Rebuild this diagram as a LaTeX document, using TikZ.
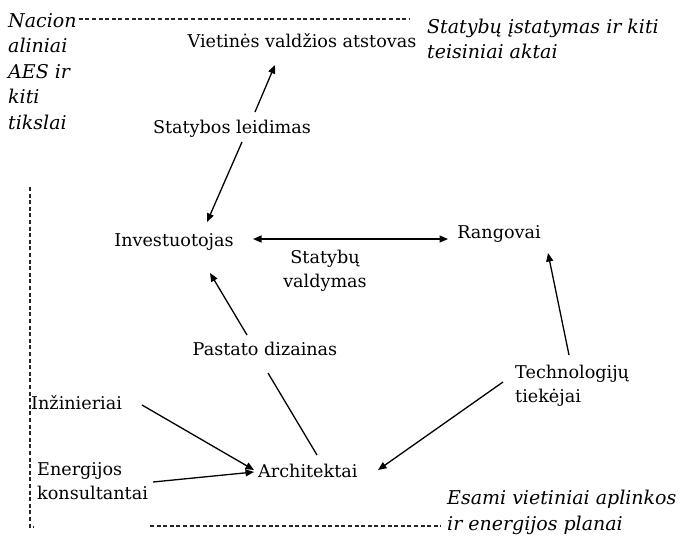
\documentclass[tikz,border=0pt]{standalone}
\usepackage{fontspec}
\setmainfont{DejaVu Serif}
\usetikzlibrary{arrows.meta}
\begin{document}
\begin{tikzpicture}[x=1pt,y=-1pt,
  lbl/.style={font=\fontsize{17.6}{24}\selectfont, inner sep=0pt},
  itl/.style={font=\fontsize{19}{25.5}\selectfont\itshape, inner sep=0pt, align=left},
  tip/.style={-{Triangle[length=8.5pt,width=7pt]}},
  conn/.style={line width=1.3pt},
  dsh/.style={dash pattern=on 4pt off 2.6pt, line width=1.1pt, black!85}]
\useasboundingbox[fill=white] (0,0) rectangle (680,542);
% nodes
\node[itl, anchor=north west] (nac) at (8,13) {Nacion\\aliniai\\AES ir\\kiti\\tikslai};
\node[lbl, anchor=base] (vie) at (302,47) {Vietinės valdžios atstovas};
\node[itl, anchor=north west, font=\fontsize{19}{24.5}\selectfont\itshape] (sta) at (427,19) {Statybų įstatymas ir kiti\\teisiniai aktai};
\node[lbl, anchor=base] (sle) at (232,133) {Statybos leidimas};
\node[lbl, anchor=base] (inv) at (174,246) {Investuotojas};
\node[lbl, anchor=base] (ran) at (499,238) {Rangovai};
\node[lbl, anchor=north, align=center] (val) at (325,250) {Statybų\\valdymas};
\node[lbl, anchor=base] (pdz) at (265,355) {Pastato dizainas};
\node[lbl, anchor=north west, align=left] (tec) at (515,365) {Technologijų\\tiekėjai};
\node[lbl, anchor=base west] (inz) at (31,409) {Inžinieriai};
\node[lbl, anchor=north west, align=left] (ene) at (37,462) {Energijos\\konsultantai};
\node[lbl, anchor=base west] (arc) at (258,477) {Architektai};
\node[itl, anchor=north west] (esa) at (447,490) {Esami vietiniai aplinkos\\ir energijos planai};
% dashed frame pieces
\draw[dsh] ([shift={(2,6)}]nac.north east) -- (410,19);
\draw[dsh] (30,187) -- (30,527) -- (34,527);
\draw[dsh] (150,526) -- (441,526);
% connectors
\draw[conn,tip] ([shift={(23,-21)}]sle.base) -- ([shift={(-27,18)}]vie.base);
\draw[conn,tip] ([shift={(10,9)}]sle.base) -- ([shift={(33,-24)}]inv.base);
\draw[conn,{Triangle[length=8.5pt,width=7pt]}-{Triangle[length=8.5pt,width=7pt]}] ([shift={(79,-7)}]inv.base) -- ([shift={(-51,1)}]ran.base);
\draw[conn,tip] ([shift={(-18,-20)}]pdz.base) -- ([shift={(36,27)}]inv.base);
\draw[conn] ([shift={(59,-22)}]arc.base west) -- ([shift={(3,18)}]pdz.base);
\draw[conn,tip] ([shift={(54,-10)}]tec.north west) -- ([shift={(49,15)}]ran.base);
\draw[conn,tip] ([shift={(-12,17)}]tec.north west) -- ([shift={(120,-7)}]arc.base west);
\draw[conn,tip] ([shift={(111,-4)}]inz.base west) -- ([shift={(-4,-7)}]arc.base west);
\draw[conn,tip] ([shift={(116,20)}]ene.north west) -- ([shift={(-4,-5)}]arc.base west);
\end{tikzpicture}
\end{document}
